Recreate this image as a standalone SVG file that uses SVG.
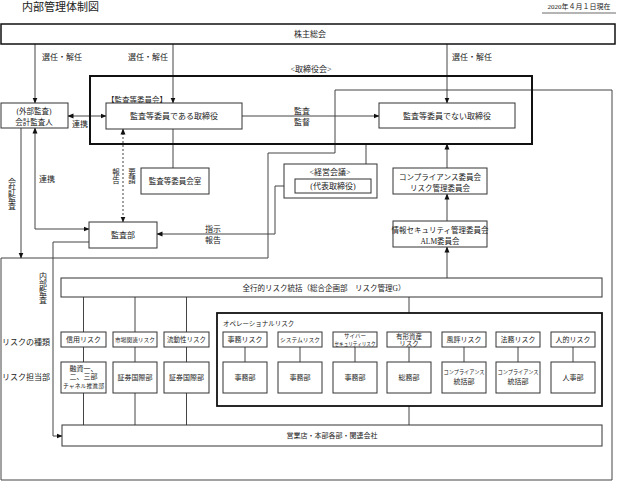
<svg xmlns="http://www.w3.org/2000/svg" width="621" height="484" viewBox="0 0 621 484">
<style>
text{font-family:"Liberation Serif","Noto Sans CJK JP",serif;fill:#222;font-size:8px}
.c{text-anchor:middle;dominant-baseline:central}
.l{dominant-baseline:central}
.box{fill:#fff;stroke:#333;stroke-width:1}
.thick{fill:none;stroke:#111;stroke-width:2}
.ln{fill:none;stroke:#444;stroke-width:1}
.dash{stroke-dasharray:2,2}
.sm{font-size:6.5px}
.xs{font-size:5.5px}
</style>
<defs>
<marker id="a" markerWidth="6" markerHeight="6" refX="5.5" refY="3" orient="auto-start-reverse" markerUnits="userSpaceOnUse"><path d="M0,0.5 L6,3 L0,5.5 z" fill="#111"/></marker>
</defs>
<text x="22" y="7" style="font-size:11px" class="l">内部管理体制図</text>
<text x="579" y="7" class="c" style="font-size:7px">2020年４月１日現在</text>
<line x1="542" y1="13" x2="616" y2="13" stroke="#444" stroke-width="0.8"/>

<g id="connectors">
<path class="ln" d="M1,258 H268 V153 H335 V90 H612 V480 H1 Z" stroke="#666"/>
<path class="ln" d="M35,44 V103" marker-end="url(#a)"/>
<path class="ln" d="M173,44 V103" marker-end="url(#a)"/>
<path class="ln" d="M447,44 V103" marker-end="url(#a)"/>
<path class="ln" d="M68,116 H106" marker-start="url(#a)" marker-end="url(#a)"/>
<path class="ln" d="M242,116 H379" marker-end="url(#a)"/>
<path class="ln" d="M21,128 V258" marker-end="url(#a)"/>
<path class="ln" d="M35,128 V229 H89" marker-start="url(#a)" marker-end="url(#a)"/>
<path class="ln dash" d="M123,129 V222" marker-start="url(#a)" marker-end="url(#a)"/>
<path class="ln" d="M173,129 V168"/>
<path class="ln" d="M157,234 H275 V186 H295" marker-start="url(#a)" marker-end="url(#a)"/>
<path class="ln" d="M366,144 V164"/>
<path class="ln" d="M447,168 V144" marker-end="url(#a)"/>
<path class="ln" d="M447,221 V194" marker-end="url(#a)"/>
<path class="ln" d="M447,278 V247" marker-end="url(#a)"/>
<path class="ln" d="M83.5,297 V332 M135,297 V332 M186.5,297 V332 M409,297 V313"/>
<path class="ln" d="M83.5,347 V362 M135,347 V362 M186.5,347 V362 M245,347 V362 M300,347 V362 M355,347 V362 M409,347 V362 M464,347 V362 M518,347 V362 M573,347 V362"/>
<path class="ln" d="M83.5,393 V425 M135,393 V425 M186.5,393 V425 M409,406 V425"/>
<path class="ln" d="M89,242 H53 V436 H62" marker-end="url(#a)"/>
</g>

<g id="shareholders"><rect x="1" y="24" width="614" height="20" fill="#fff" stroke="#111" stroke-width="1.5"/><text x="310" y="34" class="c">株主総会</text></g>
<text x="62" y="57" class="c">選任・解任</text>
<text x="148" y="57" class="c">選任・解任</text>
<text x="472" y="57" class="c">選任・解任</text>

<g id="board"><text x="311" y="69" class="c">&lt;取締役会&gt;</text><rect x="90" y="76" width="442" height="68" class="thick"/></g>
<text x="107" y="100" class="l" style="font-size:7.5px">【監査等委員会】</text>
<g id="audit-directors"><rect x="106" y="103" width="136" height="26" class="box"/><text x="174" y="116" class="c">監査等委員である取締役</text></g>
<g id="other-directors"><rect x="379" y="103" width="136" height="25" class="box"/><text x="447" y="116" class="c">監査等委員でない取締役</text></g>
<text x="302" y="111" class="c">監査</text><text x="302" y="122" class="c">監督</text>

<g id="external-auditor"><rect x="1" y="103" width="67" height="25" class="box"/><text x="34" y="111" class="c" style="font-size:7.5px">(外部監査)</text><text x="34" y="122" class="c" style="font-size:7.5px">会計監査人</text></g>
<text x="80" y="124" class="c">連携</text>
<text x="12" y="182" class="c">会</text><text x="12" y="190" class="c">計</text><text x="12" y="198" class="c">監</text><text x="12" y="206" class="c">査</text>
<text x="47" y="179" class="c">連携</text>
<text x="116" y="172" class="c" style="font-size:7.5px">報</text><text x="116" y="180" class="c" style="font-size:7.5px">告</text>
<text x="132" y="172" class="c" style="font-size:7.5px">要</text><text x="132" y="180" class="c" style="font-size:7.5px">請</text>

<g id="audit-committee-office"><rect x="141" y="168" width="68" height="26" class="box"/><text x="175" y="181" class="c" style="font-size:7.5px">監査等委員会室</text></g>
<g id="audit-dept"><rect x="89" y="222" width="68" height="26" class="box"/><text x="123" y="235" class="c">監査部</text></g>
<text x="213" y="229" class="c">指示</text><text x="213" y="240" class="c">報告</text>

<g id="management-meeting"><rect x="284" y="164" width="93" height="34" class="box"/><text x="330" y="172" class="c">&lt;経営会議&gt;</text><rect x="295" y="179" width="76" height="14" class="box"/><text x="333" y="186" class="c">(代表取締役)</text></g>
<g id="compliance-committee"><rect x="393" y="168" width="94" height="26" class="box"/><text x="440" y="177" class="c" style="font-size:7.5px">コンプライアンス委員会</text><text x="440" y="188" class="c" style="font-size:7.5px">リスク管理委員会</text></g>
<g id="infosec-committee"><rect x="393" y="221" width="94" height="26" class="box"/><text x="440" y="230" class="c" style="font-size:7.5px">情報セキュリティ管理委員会</text><text x="440" y="241" class="c" style="font-size:7.5px">ALM委員会</text></g>

<text x="43" y="276" class="c">内</text><text x="43" y="284" class="c">部</text><text x="43" y="292" class="c">監</text><text x="43" y="300" class="c">査</text>
<g id="risk-control"><rect x="61" y="278" width="541" height="19" class="box"/><text x="324" y="288" class="c" style="font-size:7.5px">全行的リスク統括（総合企画部　リスク管理G）</text></g>

<text x="2" y="342" class="l">リスクの種類</text>
<text x="2" y="377" class="l">リスク担当部</text>

<g id="credit"><rect x="61" y="332" width="45" height="15" class="box"/><text x="83.5" y="339.5" class="c" style="font-size:7px">信用リスク</text></g>
<g id="market"><rect x="113" y="332" width="44" height="15" class="box"/><text x="135" y="339.5" class="c xs" textLength="40" lengthAdjust="spacingAndGlyphs">市場関連リスク</text></g>
<g id="liquidity"><rect x="164" y="332" width="45" height="15" class="box"/><text x="186.5" y="339.5" class="c sm">流動性リスク</text></g>
<g id="credit-dept"><rect x="61" y="362" width="45" height="31" class="box"/><text x="83.5" y="369" class="c" style="font-size:7px">融資一、</text><text x="83.5" y="377" class="c" style="font-size:7px">二、三部</text><text x="83.5" y="386" class="c xs" textLength="41" lengthAdjust="spacingAndGlyphs">チャネル推進部</text></g>
<g id="market-dept"><rect x="113" y="362" width="44" height="31" class="box"/><text x="135" y="377.5" class="c" style="font-size:7px">証券国際部</text></g>
<g id="liquidity-dept"><rect x="164" y="362" width="45" height="31" class="box"/><text x="186.5" y="377.5" class="c" style="font-size:7px">証券国際部</text></g>

<g id="operational"><rect x="217" y="313" width="385" height="93" fill="none" stroke="#111" stroke-width="1.8"/><text x="223" y="323" class="l sm">オペレーショナルリスク</text></g>
<g id="op1"><rect x="223" y="332" width="44" height="15" class="box"/><text x="245" y="339.5" class="c" style="font-size:7px">事務リスク</text></g>
<g id="op2"><rect x="278" y="332" width="44" height="15" class="box"/><text x="300" y="339.5" class="c xs" textLength="40" lengthAdjust="spacingAndGlyphs">システムリスク</text></g>
<g id="op3"><rect x="333" y="332" width="44" height="15" class="box"/><text x="355" y="336" class="c xs">サイバー</text><text x="355" y="343.5" class="c xs" textLength="41" lengthAdjust="spacingAndGlyphs">セキュリティリスク</text></g>
<g id="op4"><rect x="387" y="332" width="44" height="15" class="box"/><text x="409" y="336" class="c" style="font-size:6.5px">有形資産</text><text x="409" y="343.5" class="c" style="font-size:6.5px">リスク</text></g>
<g id="op5"><rect x="442" y="332" width="44" height="15" class="box"/><text x="464" y="339.5" class="c" style="font-size:7px">風評リスク</text></g>
<g id="op6"><rect x="496" y="332" width="44" height="15" class="box"/><text x="518" y="339.5" class="c" style="font-size:7px">法務リスク</text></g>
<g id="op7"><rect x="551" y="332" width="44" height="15" class="box"/><text x="573" y="339.5" class="c" style="font-size:7px">人的リスク</text></g>
<g id="opd1"><rect x="223" y="362" width="44" height="31" class="box"/><text x="245" y="377.5" class="c" style="font-size:7px">事務部</text></g>
<g id="opd2"><rect x="278" y="362" width="44" height="31" class="box"/><text x="300" y="377.5" class="c" style="font-size:7px">事務部</text></g>
<g id="opd3"><rect x="333" y="362" width="44" height="31" class="box"/><text x="355" y="377.5" class="c" style="font-size:7px">事務部</text></g>
<g id="opd4"><rect x="387" y="362" width="44" height="31" class="box"/><text x="409" y="377.5" class="c" style="font-size:7px">総務部</text></g>
<g id="opd5"><rect x="442" y="362" width="44" height="31" class="box"/><text x="464" y="372" class="c xs" textLength="41" lengthAdjust="spacingAndGlyphs">コンプライアンス</text><text x="464" y="382" class="c" style="font-size:7px">統括部</text></g>
<g id="opd6"><rect x="496" y="362" width="44" height="31" class="box"/><text x="518" y="372" class="c xs" textLength="41" lengthAdjust="spacingAndGlyphs">コンプライアンス</text><text x="518" y="382" class="c" style="font-size:7px">統括部</text></g>
<g id="opd7"><rect x="551" y="362" width="44" height="31" class="box"/><text x="573" y="377.5" class="c" style="font-size:7px">人事部</text></g>

<g id="branches"><rect x="62" y="425" width="540" height="21" class="box"/><text x="332" y="435.5" class="c" style="font-size:7px">営業店・本部各部・関連会社</text></g>
</svg>
